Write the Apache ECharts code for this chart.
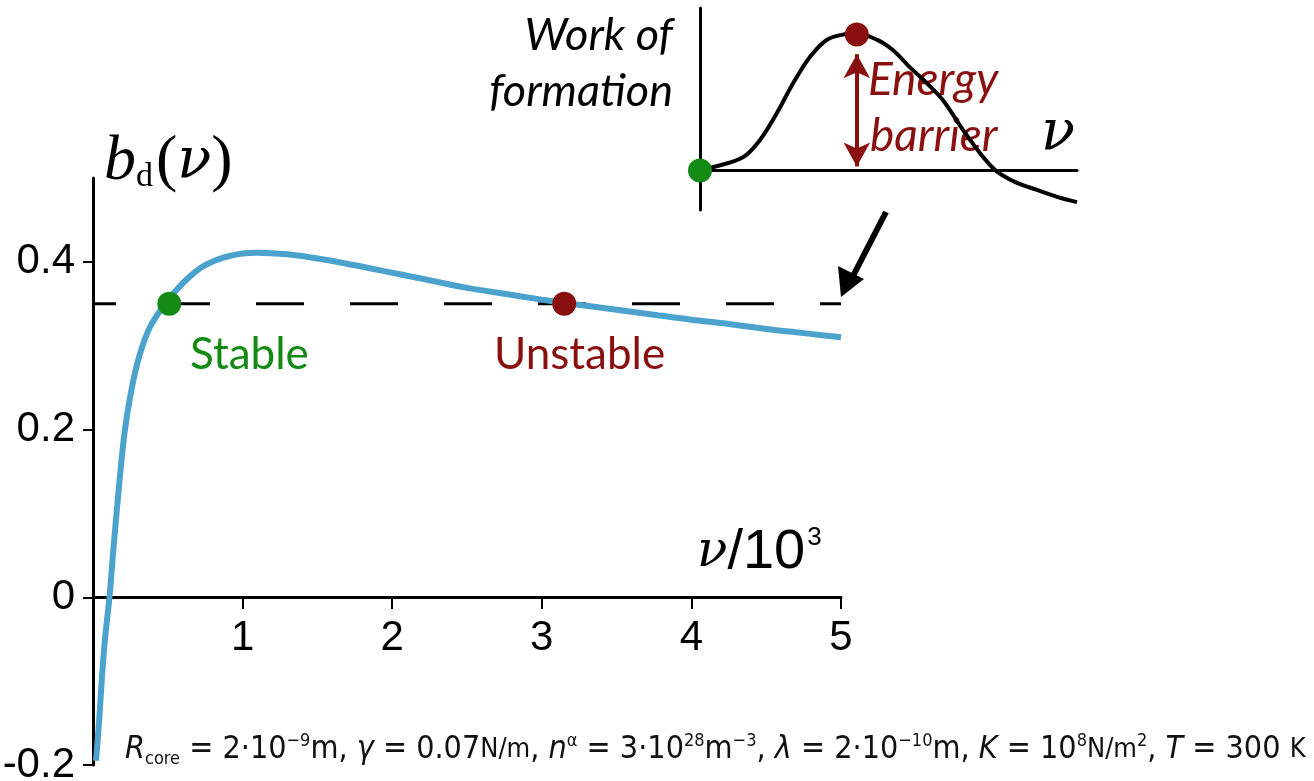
<!DOCTYPE html>
<html><head><meta charset="utf-8">
<script src="https://cdn.jsdelivr.net/npm/echarts@6/dist/echarts.min.js"></script>
<style>html,body{margin:0;padding:0;background:#fff;}#c{width:1314px;height:781px;}</style>
</head><body><div id="c"></div>
<script>
// main curve b_d(nu), nu in units of 10^3
const nuValues = [0.02,0.04,0.06,0.08,0.11,0.14,0.17,0.21,0.26,0.31,0.38,0.48,0.55,0.65,0.75,0.87,1.00,1.10,1.30,1.50,1.75,2.00,2.25,2.50,2.75,3.00,3.15,3.50,3.75,4.00,4.25,4.50,4.75,5.00];
const bdValues = [-0.195,-0.15,-0.095,-0.05,0.00,0.065,0.125,0.195,0.25,0.288,0.322,0.35,0.365,0.383,0.396,0.405,0.41,0.411,0.409,0.404,0.396,0.387,0.378,0.369,0.362,0.355,0.351,0.343,0.337,0.331,0.326,0.32,0.315,0.31];
const levelValue = 0.35;
const stablePoint = [0.51, 0.35];
const unstablePoint = [3.15, 0.35];
const yTicks = [-0.2, 0, 0.2, 0.4];
const xTicks = [1, 2, 3, 4, 5];
// inset: work of formation vs nu (arbitrary units)
const insetX = [0,0.027,0.114,0.159,0.204,0.247,0.292,0.337,0.39,0.41,0.469,0.512,0.557,0.602,0.645,0.698,0.743,0.777,0.801,0.841,0.894,0.947,1.0];
const insetY = [0,0.018,0.10,0.23,0.435,0.66,0.86,0.99,1.035,1.04,0.99,0.91,0.78,0.66,0.53,0.305,0.13,0.018,-0.035,-0.095,-0.148,-0.20,-0.24];
const insetStart = [0, 0];
const insetPeak = [0.416, 1.03];
const barrierArrow = [[0.416, 0.88], [0.416, 0.03]];

const GREEN = '#138a13', DRED = '#8a0f0f', BLUE = '#4ba3cd';

const chart = echarts.init(document.getElementById('c'));
chart.setOption({
  animation: false,
  backgroundColor: '#fff',
  grid: [
    {left: 93, top: 178, width: 748, height: 587, containLabel: false, outerBoundsMode: 'none'},
    {left: 700, top: 8, width: 377, height: 202, containLabel: false, outerBoundsMode: 'none'}
  ],
  xAxis: [
    {gridIndex: 0, type: 'value', min: 0, max: 5, position: 'bottom', offset: -168,
     axisLine: {onZero: false, lineStyle: {color: '#000', width: 3}},
     axisTick: {customValues: xTicks, length: 12, lineStyle: {color: '#000', width: 2}},
     axisLabel: {customValues: xTicks, color: '#000', fontSize: 42, fontFamily: 'Liberation Sans', margin: 20},
     splitLine: {show: false}},
    {gridIndex: 1, type: 'value', min: 0, max: 1,
     axisLine: {onZero: true, lineStyle: {color: '#000', width: 3}},
     axisTick: {show: false}, axisLabel: {show: false}, splitLine: {show: false}}
  ],
  yAxis: [
    {gridIndex: 0, type: 'value', min: -0.2, max: 0.5,
     axisLine: {show: true, onZero: false, lineStyle: {color: '#000', width: 3}},
     axisTick: {show: true, customValues: yTicks, length: 10, lineStyle: {color: '#000', width: 2}},
     axisLabel: {customValues: yTicks, color: '#000', fontSize: 42, fontFamily: 'Liberation Sans', margin: 18},
     splitLine: {show: false}},
    {gridIndex: 1, type: 'value', min: -0.3, max: 1.23,
     axisLine: {show: true, onZero: false, lineStyle: {color: '#000', width: 3}},
     axisTick: {show: false}, axisLabel: {show: false}, splitLine: {show: false}}
  ],
  series: [
    {type: 'line', xAxisIndex: 0, yAxisIndex: 0, symbol: 'none',
     data: [[0, levelValue], [5, levelValue]],
     lineStyle: {color: '#000', width: 3, type: [48, 46], dashOffset: 25}, z: 2},
    {type: 'line', xAxisIndex: 0, yAxisIndex: 0, symbol: 'none', smooth: 0.3,
     data: nuValues.map((v, i) => [v, bdValues[i]]),
     lineStyle: {color: BLUE, width: 6}, z: 3},
    {type: 'scatter', xAxisIndex: 0, yAxisIndex: 0, symbolSize: 24,
     itemStyle: {opacity: 1},
     data: [{value: stablePoint, itemStyle: {color: GREEN, opacity: 1}}, {value: unstablePoint, itemStyle: {color: DRED, opacity: 1}}], z: 5},
    {type: 'line', xAxisIndex: 1, yAxisIndex: 1, symbol: 'none', smooth: 0.35,
     data: insetX.map((v, i) => [v, insetY[i]]),
     lineStyle: {color: '#000', width: 4}, z: 3,
     markLine: {silent: true, symbol: ['arrow', 'arrow'], symbolSize: [20, 24],
       lineStyle: {color: DRED, width: 4, type: 'solid'}, label: {show: false},
       data: [[{coord: barrierArrow[0]}, {coord: barrierArrow[1]}]]}},
    {type: 'scatter', xAxisIndex: 1, yAxisIndex: 1, symbolSize: 24,
     itemStyle: {opacity: 1},
     data: [{value: insetStart, itemStyle: {color: GREEN, opacity: 1}}, {value: insetPeak, itemStyle: {color: DRED, opacity: 1}}], z: 5}
  ],
  graphic: [
    {type: 'text', style: {x: 104, y: 162, textVerticalAlign: 'middle',
      text: '{b|b}{d|d}{p|(}{v|ν}{p|)}',
      rich: {
        b: {fontFamily: 'Liberation Serif', fontStyle: 'italic', fontSize: 64, fill: '#000'},
        d: {fontFamily: 'Liberation Serif', fontSize: 34, fill: '#000', verticalAlign: 'bottom', padding: [26, 3, 0, 0]},
        p: {fontFamily: 'Liberation Serif', fontSize: 64, fill: '#000'},
        v: {fontFamily: 'DejaVu Serif', fontStyle: 'italic', fontSize: 56, fill: '#000'}
      }}},
    {type: 'text', style: {x: 697, y: 553, textVerticalAlign: 'middle',
      text: '{v|ν}{s|/10}{e|3}',
      rich: {
        v: {fontFamily: 'DejaVu Serif', fontStyle: 'italic', fontSize: 50, fill: '#000'},
        s: {fontFamily: 'Liberation Sans', fontSize: 56, fill: '#000'},
        e: {fontFamily: 'Liberation Sans', fontSize: 26, fill: '#000', verticalAlign: 'top', padding: [0, 0, 30, 2]}
      }}},
    {type: 'text', style: {x: 190, y: 355, textVerticalAlign: 'middle', text: 'Stable',
      fontFamily: 'Lato', fontSize: 44, fill: GREEN}},
    {type: 'text', style: {x: 494, y: 355, textVerticalAlign: 'middle', text: 'Unstable',
      fontFamily: 'Lato', fontSize: 44, fill: DRED}},
    {type: 'text', style: {x: 673, y: 35, textAlign: 'right', textVerticalAlign: 'middle', text: 'Work of',
      fontFamily: 'Lato', fontStyle: 'italic', fontSize: 45, fill: '#000'}},
    {type: 'text', style: {x: 673, y: 91, textAlign: 'right', textVerticalAlign: 'middle', text: 'formation',
      fontFamily: 'Lato', fontStyle: 'italic', fontSize: 45, fill: '#000'}},
    {type: 'text', style: {x: 868, y: 80, textVerticalAlign: 'middle', text: 'Energy',
      fontFamily: 'Lato', fontStyle: 'italic', fontSize: 46, fill: DRED}},
    {type: 'text', style: {x: 870, y: 136, textVerticalAlign: 'middle', text: 'barrier',
      fontFamily: 'Lato', fontStyle: 'italic', fontSize: 46, fill: DRED}},
    {type: 'text', style: {x: 1041, y: 134, textVerticalAlign: 'middle', text: 'ν',
      fontFamily: 'DejaVu Serif', fontStyle: 'italic', fontSize: 56, fill: '#000'}},
    {type: 'line', shape: {x1: 886, y1: 212, x2: 852, y2: 278}, style: {stroke: '#000', lineWidth: 6}},
    {type: 'polygon', shape: {points: [[841, 297], [838, 266], [864, 279]]}, style: {fill: '#000'}},
    {type: 'text', style: {x: 125, y: 750, textVerticalAlign: 'middle',
      text: '{i|R}{sb|core}{n| = 2·10}{sp|−9}{n|m, }{i|γ}{n| = 0.07}{u|N/m}{n|, }{i|n}{sp|α}{n| = 3·10}{sp|28}{n|m}{sp|−3}{n|, }{i|λ}{n| = 2·10}{sp|−10}{n|m, }{i|K}{n| = 10}{sp|8}{u|N/m}{sp|2}{n|, }{i|T}{n| = 300 }{u|K}',
      rich: {
        n: {fontFamily: 'DejaVu Sans Condensed', fontSize: 32, fill: '#111'},
        u: {fontFamily: 'DejaVu Sans Condensed', fontSize: 27, fill: '#111'},
        i: {fontFamily: 'DejaVu Sans Condensed', fontStyle: 'italic', fontSize: 32, fill: '#111'},
        sp: {fontFamily: 'DejaVu Sans Condensed', fontSize: 18, fill: '#111', verticalAlign: 'top', padding: [0, 0, 18, 0]},
        sb: {fontFamily: 'DejaVu Sans Condensed', fontSize: 18, fill: '#111', verticalAlign: 'bottom', padding: [18, 0, 0, 0]}
      }}}
  ]
});
</script></body></html>
